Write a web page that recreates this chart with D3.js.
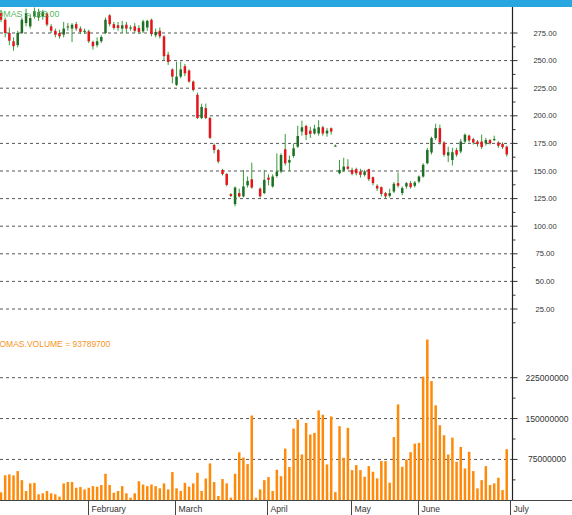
<!DOCTYPE html>
<html>
<head>
<meta charset="utf-8">
<script src="https://cdn.jsdelivr.net/npm/d3@7"></script>
<style>
  body { margin: 0; background: #fff; }
  svg { display: block; font-family: "Liberation Sans", Arial, sans-serif; }
</style>
</head>
<body>
<div id="chart"></div>
<script>
// daily OHLC, one entry per trading day (null = no candle)
const opens = [293, 287, 275, 267.5, 264, 275, 284, 281, 290, 289,
  290, 292.6, 281, 277, 275, 273.5, 280, 279, 283, 279,
  276, 276.5, 267, 264, 267.5, 275, 291, 283, 282, 279,
  282.5, 279, 281, 279.5, 276.5, 280, 287, 273, 277, 272,
  255.4, 242, 228, 235.5, 245, 241, 231, 219, 198, 207,
  198, 173.6, 169, 151, 147.3, 129, 120, 130, 127, 137,
  142.5, null, 134, 130, 144, 136, 145.5, 149.5, 169.7, 157.6,
  163.6, 172, 185.7, 190.8, 186.6, 184, 184, 189.6, 184, 188.7,
  173, 148, 150.5, 154, 151, 151.7, 149.6, 146.5, 151.7, 144.4,
  136.6, 135.4, 130, 127.5, 131.4, 139, 130, 136, 139, 136.6,
  140.5, 145, 157, 166.8, 179.8, 188.8, 175.8, 164, 160, 169,
  167.7, 176.7, 182, 178.9, 176.7, 176.7, 175, 178, 178, 175.8,
  174.6, 172];
const highs = [296, 289, 280, 271, 277, 289, 297, 292, 298, 297,
  296, 294, 283, 279, 278, 285, 284, 284, 285, 281,
  279, 278, 268, 271, 273, 289, 292, 285, 285, 286,
  285, 282, 284, 282, 287, 287, 288, 279, 280, 273,
  258, 243, 249, 249, 247, 242, 232, 221, 211, 211,
  199, 175, 170, 152, 148, 130, 136, 134, 151, 145,
  157.6, null, 135, 151, 147, 147, 166, 166, 183.6, 164,
  175, 191, 195.6, 192, 190, 192, 196, 191, 189, 189.5,
  174, 160, 162, 160.7, 153, 153, 152, 151, 152, 145,
  138, 136, 131, 134, 140, 148.7, 136, 140, 141, 141,
  146, 157, 171, 181, 192.8, 192, 177, 172, 171, 171,
  179, 184, 183, 180, 178, 183, 180, 179, 182, 177,
  176, 173];
const lows = [285, 271, 264, 259, 262, 274, 281, 279, 288, 286,
  287, 281, 275, 271, 270, 271, 277, 266.8, 277, 274,
  274, 266, 260, 262, 266, 274, 281, 278, 277, 275,
  275, 277, 275, 274, 275, 277, 272, 271, 270, 250,
  246, 229.5, 227, 234, 236, 230, 222, 197, 197, 197,
  179, 166, 157, 146, 136, 126.5, 118, 126, 126, 135,
  134, null, 126, 129, 137, 135, 144, 148, 155, 150,
  162, 171, 182, 178, 180, 183, 182, 182, 181, 183,
  172, 147, 149, 151, 146, 146, 144, 145, 141, 137,
  132, 127, 125, 126, 130, 135, 128, 134, 134, 135,
  139, 144, 156, 165, 178, 174, 163, 158, 155, 163,
  166, 175, 176, 174, 172, 170, 173, 174, 177, 171,
  170, 163];
const closes = [287, 275, 268, 263, 275, 287, 293, 288.5, 295, 294,
  294, 282.6, 277, 273.5, 272, 279, 281, 282.5, 279, 276,
  277, 267.5, 263, 267.5, 271.4, 287, 283, 279.5, 279.5, 282,
  279, 280, 277, 276, 285.5, 286, 274, 276, 272, 254,
  248.7, 235.5, 235.5, 242, 238.5, 231, 223.4, 198, 208, 198,
  180, 169, 158.5, 147.3, 137.4, 127.4, 135, 127, 136, 141,
  135, null, 127, 142, 142, 145, 149.5, 164.5, 157, 160,
  170.6, 181.7, 189.6, 182.7, 183.6, 188.4, 189.6, 184, 186.6, 185.7,
  173, 151, 154, 152, 147.5, 148, 146.5, 149.6, 142.6, 139,
  134.2, 129.3, 127, 130, 138.4, 136.6, 134.5, 139, 135.4, 139.6,
  145, 155.6, 169, 179.8, 188.8, 175.8, 164.7, 167, 167, 164.7,
  176.7, 182.8, 177.7, 175.8, 174.3, 171.6, 178, 175, 179, 172.8,
  171.6, 165];
const volumes = [14.6e6, 46e6, 47.5e6, 45.7e6, 53.6e6, 37e6, 17e6, 31e6, 32e6, 11e6,
  12.8e6, 17e6, 12.8e6, 11e6, 6.7e6, 31e6, 33.5e6, 33.5e6, 23e6, 24.3e6,
  20e6, 23e6, 26e6, 25e6, 28e6, 48.7e6, 28e6, 14e6, 17e6, 26e6,
  12.8e6, 4.8e6, 12.8e6, 35e6, 29e6, 26e6, 29e6, 26e6, 22e6, 31e6,
  20e6, 51.8e6, 22e6, 17e6, 32e6, 25e6, 31e6, 50.5e6, 17e6, 40e6,
  67.7e6, 33.5e6, 7.9e6, 39e6, 31e6, 4.8e6, 48.7e6, 88e6, 78.6e6, 66.4e6,
  155.5e6, 4.8e6, 20e6, 37e6, 42.6e6, 17e6, 56e6, 44.2e6, 94.8e6, 61e6,
  131.6e6, 148e6, 84e6, 142e6, 120.7e6, 123.7e6, 165e6, 157e6, 65.8e6, 154e6,
  15e6, 136e6, 78e6, 133e6, 55.4e6, 64.6e6, 55.4e6, 43.3e6, 62.7e6, 52.4e6,
  40.2e6, 71.9e6, 71.9e6, 32.3e6, 116e6, 176e6, 61.5e6, 75e6, 88.3e6, 104e6,
  105.4e6, 227e6, 295e6, 218.8e6, 174.3e6, 137.7e6, 119.4e6, 84e6, 115e6, 70.6e6,
  98e6, 58.5e6, 89e6, 53.6e6, 21.9e6, 37e6, 62.7e6, 28e6, 31e6, 41.4e6,
  18.8e6, 93789700];

const months = ["February", "March", "April", "May", "June", "July"];
const monthStart = [21, 42, 64, 84, 100, 122];   // index of first trading day
const priceTicks = [25, 50, 75, 100, 125, 150, 175, 200, 225, 250, 275];
const volumeTicks = [75000000, 150000000, 225000000];

const width = 572, height = 515;
const axisX = 512.5, baseY = 500.5;

const svg = d3.select("#chart").append("svg")
  .attr("width", width)
  .attr("height", height);

const days = d3.range(closes.length + 1);
const x = d3.scaleBand()
  .domain(days)
  .range([-1.1, 513])
  .paddingInner(0.4)
  .paddingOuter(0.2);
const bw = x.bandwidth();

const yP = d3.scaleLinear().domain([25, 275]).range([309, 33]);
const yV = d3.scaleLinear().domain([0, 225000000]).range([500.3, 377.7]);

// dashed grid lines
const grid = svg.append("g")
  .attr("stroke", "#555")
  .attr("stroke-dasharray", "3,3");
grid.selectAll("line.p")
  .data(priceTicks)
  .join("line")
  .attr("class", "p")
  .attr("x1", 0).attr("x2", axisX)
  .attr("y1", d => yP(d)).attr("y2", d => yP(d));
grid.selectAll("line.v")
  .data(volumeTicks)
  .join("line")
  .attr("class", "v")
  .attr("x1", 0).attr("x2", axisX)
  .attr("y1", d => yV(d)).attr("y2", d => yV(d));

// volume bars
svg.append("g")
  .selectAll("rect")
  .data(volumes)
  .join("rect")
  .attr("x", (d, i) => x(i))
  .attr("width", bw)
  .attr("y", d => yV(d))
  .attr("height", d => yV(0) - yV(d))
  .attr("fill", "#ff8a0a");

// candles
const candles = d3.range(closes.length)
  .filter(i => opens[i] != null)
  .map(i => ({ i, o: opens[i], h: highs[i], l: lows[i], c: closes[i] }));

const cg = svg.append("g");
cg.selectAll("line")
  .data(candles)
  .join("line")
  .attr("x1", d => x(d.i) + bw / 2)
  .attr("x2", d => x(d.i) + bw / 2)
  .attr("y1", d => yP(d.h))
  .attr("y2", d => yP(d.l))
  .attr("stroke", "#3a9a3a")
  .attr("stroke-width", 1);
cg.selectAll("rect")
  .data(candles)
  .join("rect")
  .attr("x", d => x(d.i))
  .attr("width", bw)
  .attr("y", d => yP(Math.max(d.o, d.c)))
  .attr("height", d => Math.max(1, Math.abs(yP(d.o) - yP(d.c))))
  .attr("fill", d => d.c >= d.o ? "#1f6e25" : "#e3161b");

// right axis
svg.append("line")
  .attr("x1", axisX).attr("x2", axisX)
  .attr("y1", 7).attr("y2", baseY)
  .attr("stroke", "#222").attr("stroke-width", 1.2);

const priceMinor = priceTicks.map(d => d - 12.5);
const volMinor = [0].concat(volumeTicks).slice(0, 3).map((d, k) => (d + volumeTicks[k]) / 2);

svg.append("g").selectAll("line")
  .data(priceTicks)
  .join("line")
  .attr("x1", axisX).attr("x2", axisX + 5)
  .attr("y1", d => yP(d)).attr("y2", d => yP(d))
  .attr("stroke", "#333");
svg.append("g").selectAll("line")
  .data(priceMinor)
  .join("line")
  .attr("x1", axisX).attr("x2", axisX + 3)
  .attr("y1", d => yP(d)).attr("y2", d => yP(d))
  .attr("stroke", "#333");
svg.append("g").selectAll("line")
  .data(volumeTicks)
  .join("line")
  .attr("x1", axisX).attr("x2", axisX + 5)
  .attr("y1", d => yV(d)).attr("y2", d => yV(d))
  .attr("stroke", "#333");
svg.append("g").selectAll("line")
  .data(volMinor)
  .join("line")
  .attr("x1", axisX).attr("x2", axisX + 3)
  .attr("y1", d => yV(d)).attr("y2", d => yV(d))
  .attr("stroke", "#333");

svg.append("g").selectAll("text")
  .data(priceTicks)
  .join("text")
  .attr("x", 545)
  .attr("y", d => yP(d))
  .attr("dy", "0.35em")
  .attr("text-anchor", "middle")
  .style("font-size", "7.6px")
  .style("fill", "#333")
  .text(d => d3.format(".2f")(d));
svg.append("g").selectAll("text")
  .data(volumeTicks)
  .join("text")
  .attr("x", 547)
  .attr("y", d => yV(d))
  .attr("dy", "0.35em")
  .attr("text-anchor", "middle")
  .style("font-size", "8.6px")
  .style("fill", "#333")
  .text(d => d);

// bottom time axis
svg.append("line")
  .attr("x1", 0).attr("x2", width)
  .attr("y1", baseY).attr("y2", baseY)
  .attr("stroke", "#444");
const mt = svg.append("g").selectAll("g")
  .data(months)
  .join("g")
  .attr("transform", (d, k) => `translate(${Math.round(x(monthStart[k])) + 0.5},0)`);
mt.append("line")
  .attr("y1", baseY).attr("y2", height)
  .attr("stroke", "#444");
mt.append("text")
  .attr("x", 3)
  .attr("y", 511.5)
  .style("font-size", "8.6px")
  .style("fill", "#333")
  .text(d => d);

// series labels (left edge clipped as in the original)
svg.append("text")
  .attr("x", -3.5).attr("y", 16.5)
  .style("font-size", "8.8px")
  .style("fill", "#5cb85c")
  .text("OMAS = " + d3.format(".2f")(closes[closes.length - 1]));
svg.append("text")
  .attr("x", -0.5).attr("y", 346.5)
  .style("font-size", "8.5px")
  .style("fill", "#f7941d")
  .text("OMAS.VOLUME = " + volumes[volumes.length - 1]);

// top bar
svg.append("rect")
  .attr("x", 0).attr("y", 0)
  .attr("width", width).attr("height", 7)
  .attr("fill", "#27a6df");
</script>
</body>
</html>
